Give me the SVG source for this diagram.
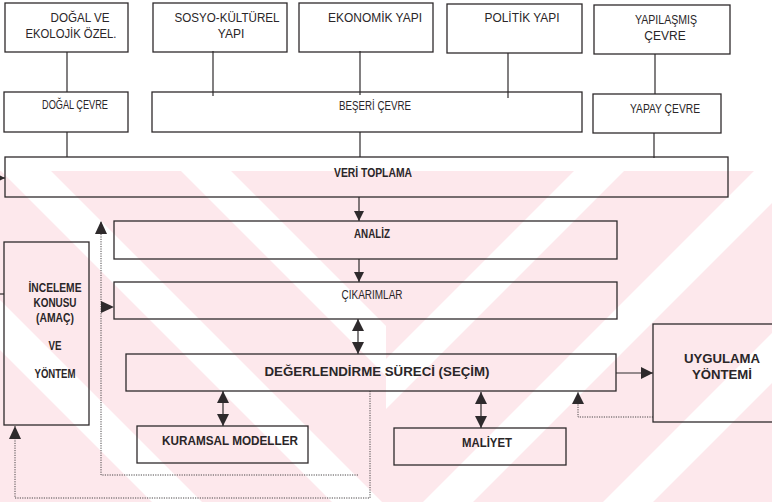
<svg xmlns="http://www.w3.org/2000/svg" width="772" height="502" viewBox="0 0 772 502">
  <defs>
    <style>
      .box { fill: none; stroke: #2e2a2c; stroke-width: 1.3; }
      .ln { fill: none; stroke: #2e2a2c; stroke-width: 1.2; }
      .dot { fill: none; stroke: #4a4648; stroke-width: 1; stroke-dasharray: 1.2 1.2; }
      .t { font-family: "Liberation Sans Narrow", "Liberation Sans", Arial, sans-serif; font-size: 12px; fill: #2a2628; text-anchor: middle; }
      .b { font-weight: bold; }
      .band { fill: #ffffff; }
    </style>
    <marker id="ah" viewBox="0 0 10 10" refX="10" refY="5" markerWidth="10" markerHeight="10" markerUnits="userSpaceOnUse" orient="auto">
      <path d="M0,0 L10,5 L0,10 Z" fill="#2e2a2c"/>
    </marker>
    <marker id="ahs" viewBox="0 0 10 10" refX="10" refY="5" markerWidth="12" markerHeight="12" markerUnits="userSpaceOnUse" orient="auto-start-reverse">
      <path d="M0,0 L10,5 L0,10 Z" fill="#2e2a2c"/>
    </marker>
    <clipPath id="leftHalf"><rect x="0" y="171" width="386" height="331"/></clipPath>
    <clipPath id="rightHalf"><rect x="386" y="171" width="386" height="331"/></clipPath>
  </defs>

  <!-- paper -->
  <rect x="0" y="0" width="772" height="502" fill="#ffffff"/>

  <!-- pale diagonal watermark pattern in the lower part of the sheet -->
  <g id="watermark">
    <rect x="0" y="171" width="772" height="331" fill="#fde8ec"/>
    <g clip-path="url(#leftHalf)">
      <polygon class="band" points="1,171 51,171 382,502 332,502"/>
      <polygon class="band" points="-179,171 -129,171 202,502 152,502"/>
      <polygon class="band" points="181,171 231,171 562,502 512,502"/>
    </g>
    <g clip-path="url(#rightHalf)">
      <polygon class="band" points="574,171 624,171 293,502 243,502"/>
      <polygon class="band" points="754,171 804,171 473,502 423,502"/>
      <polygon class="band" points="934,171 984,171 653,502 603,502"/>
      <polygon class="band" points="1114,171 1164,171 833,502 783,502"/>
    </g>
  </g>

  <!-- connectors -->
  <g id="connectors">
    <!-- top row to environment row -->
    <line class="ln" x1="67" y1="52" x2="67" y2="92"/>
    <line class="ln" x1="213" y1="51" x2="213" y2="96"/>
    <line class="ln" x1="360" y1="51" x2="360" y2="95"/>
    <line class="ln" x1="508" y1="53" x2="508" y2="98"/>
    <line class="ln" x1="655" y1="54" x2="655" y2="94"/>
    <!-- environment row to data collection -->
    <line class="ln" x1="67" y1="132" x2="67" y2="157"/>
    <line class="ln" x1="360" y1="132" x2="360" y2="157"/>
    <line class="ln" x1="654" y1="133" x2="654" y2="158"/>
    <!-- incoming from the left edge -->
    <line class="ln" x1="0" y1="178" x2="5" y2="178" marker-end="url(#ah)"/>
    <line class="ln" x1="0" y1="294" x2="4" y2="294"/>
    <!-- main flow -->
    <line class="ln" x1="359" y1="197" x2="359" y2="221" marker-end="url(#ah)"/>
    <line class="ln" x1="359" y1="259" x2="359" y2="282" marker-end="url(#ah)"/>
    <line class="ln" x1="358" y1="319" x2="358" y2="354" marker-start="url(#ahs)" marker-end="url(#ahs)"/>
    <line class="ln" x1="223" y1="391" x2="223" y2="426" marker-start="url(#ahs)" marker-end="url(#ahs)"/>
    <line class="ln" x1="481" y1="392" x2="481" y2="428" marker-start="url(#ahs)" marker-end="url(#ahs)"/>
    <line class="ln" x1="616" y1="373" x2="653" y2="373" marker-end="url(#ahs)"/>
    <!-- feedback loops -->
    <polyline class="dot" points="653,417 578,417 578,392"/>
    <path d="M572,404 L578,392 L584,404 Z" fill="#2e2a2c"/>
    <polyline class="dot" points="370,391 370,498 15,498 15,426"/>
    <path d="M9,439 L15,426 L21,439 Z" fill="#2e2a2c"/>
    <polyline class="dot" points="358,475 101,475 101,221"/>
    <path d="M95,234 L101,221 L107,234 Z" fill="#2e2a2c"/>
    <path d="M101,301 L114,307 L101,313 Z" fill="#2e2a2c"/>
  </g>

  <g id="n-dogal-ekolojik">
    <rect class="box" x="5" y="3" width="123" height="49"/>
    <text class="t" x="80" y="22" textLength="59" lengthAdjust="spacingAndGlyphs">DOĞAL VE</text>
    <text class="t" x="71" y="38" textLength="91" lengthAdjust="spacingAndGlyphs">EKOLOJİK ÖZEL.</text>
  </g>
  <g id="n-sosyo-kulturel">
    <rect class="box" x="153" y="3" width="134" height="49"/>
    <text class="t" x="227" y="22" textLength="105" lengthAdjust="spacingAndGlyphs">SOSYO-KÜLTÜREL</text>
    <text class="t" x="231" y="38">YAPI</text>
  </g>
  <g id="n-ekonomik">
    <rect class="box" x="299" y="3" width="134" height="49"/>
    <text class="t" x="375" y="22" textLength="94" lengthAdjust="spacingAndGlyphs">EKONOMİK YAPI</text>
  </g>
  <g id="n-politik">
    <rect class="box" x="447" y="4" width="135" height="49"/>
    <text class="t" x="522" y="22" textLength="75" lengthAdjust="spacingAndGlyphs">POLİTİK YAPI</text>
  </g>
  <g id="n-yapilasmis">
    <rect class="box" x="594" y="5" width="136" height="49"/>
    <text class="t" x="666" y="24" textLength="62" lengthAdjust="spacingAndGlyphs">YAPILAŞMIŞ</text>
    <text class="t" x="665" y="40">ÇEVRE</text>
  </g>

  <g id="n-dogal-cevre">
    <rect class="box" x="4" y="92" width="124" height="40"/>
    <text class="t" x="75" y="109" font-size="11" textLength="66" lengthAdjust="spacingAndGlyphs">DOĞAL ÇEVRE</text>
  </g>
  <g id="n-beseri-cevre">
    <rect class="box" x="152" y="92" width="430" height="40"/>
    <text class="t" x="375" y="110" font-size="11" textLength="72" lengthAdjust="spacingAndGlyphs">BEŞERİ ÇEVRE</text>
  </g>
  <g id="n-yapay-cevre">
    <rect class="box" x="593" y="94" width="128" height="39"/>
    <text class="t" x="665" y="113" font-size="11" textLength="70" lengthAdjust="spacingAndGlyphs">YAPAY ÇEVRE</text>
  </g>

  <g id="n-veri-toplama">
    <rect class="box" x="5" y="157" width="723" height="40"/>
    <text class="t b" x="373" y="177" font-size="11" textLength="78" lengthAdjust="spacingAndGlyphs">VERİ TOPLAMA</text>
  </g>
  <g id="n-analiz">
    <rect class="box" x="114" y="221" width="503" height="38"/>
    <text class="t b" x="372" y="238" font-size="11" textLength="36" lengthAdjust="spacingAndGlyphs">ANALİZ</text>
  </g>
  <g id="n-cikarimlar">
    <rect class="box" x="114" y="282" width="503" height="37"/>
    <text class="t" x="372" y="299" font-size="11" textLength="61" lengthAdjust="spacingAndGlyphs">ÇIKARIMLAR</text>
  </g>
  <g id="n-degerlendirme">
    <rect class="box" x="126" y="354" width="490" height="37"/>
    <text class="t b" x="377" y="376" font-size="15" textLength="225" lengthAdjust="spacingAndGlyphs">DEĞERLENDİRME SÜRECİ (SEÇİM)</text>
  </g>
  <g id="n-kuramsal">
    <rect class="box" x="137" y="426" width="171" height="37"/>
    <text class="t b" x="230" y="445" font-size="12.5" textLength="136" lengthAdjust="spacingAndGlyphs">KURAMSAL MODELLER</text>
  </g>
  <g id="n-maliyet">
    <rect class="box" x="394" y="428" width="172" height="37"/>
    <text class="t b" x="487" y="447" font-size="12.5" textLength="50" lengthAdjust="spacingAndGlyphs">MALİYET</text>
  </g>
  <g id="n-uygulama">
    <rect class="box" x="653" y="324" width="124" height="98"/>
    <text class="t b" x="722" y="363" font-size="13.5" textLength="76" lengthAdjust="spacingAndGlyphs">UYGULAMA</text>
    <text class="t b" x="722" y="379" font-size="13.5" textLength="60" lengthAdjust="spacingAndGlyphs">YÖNTEMİ</text>
  </g>
  <g id="n-inceleme">
    <rect class="box" x="4" y="242" width="85" height="183"/>
    <text class="t b" x="55" y="292" font-size="12" textLength="53" lengthAdjust="spacingAndGlyphs">İNCELEME</text>
    <text class="t b" x="55" y="307" font-size="12" textLength="43" lengthAdjust="spacingAndGlyphs">KONUSU</text>
    <text class="t b" x="55" y="322" font-size="12" textLength="38" lengthAdjust="spacingAndGlyphs">(AMAÇ)</text>
    <text class="t b" x="55" y="350" font-size="12" textLength="13" lengthAdjust="spacingAndGlyphs">VE</text>
    <text class="t b" x="55" y="378" font-size="12" textLength="41" lengthAdjust="spacingAndGlyphs">YÖNTEM</text>
  </g>
</svg>
